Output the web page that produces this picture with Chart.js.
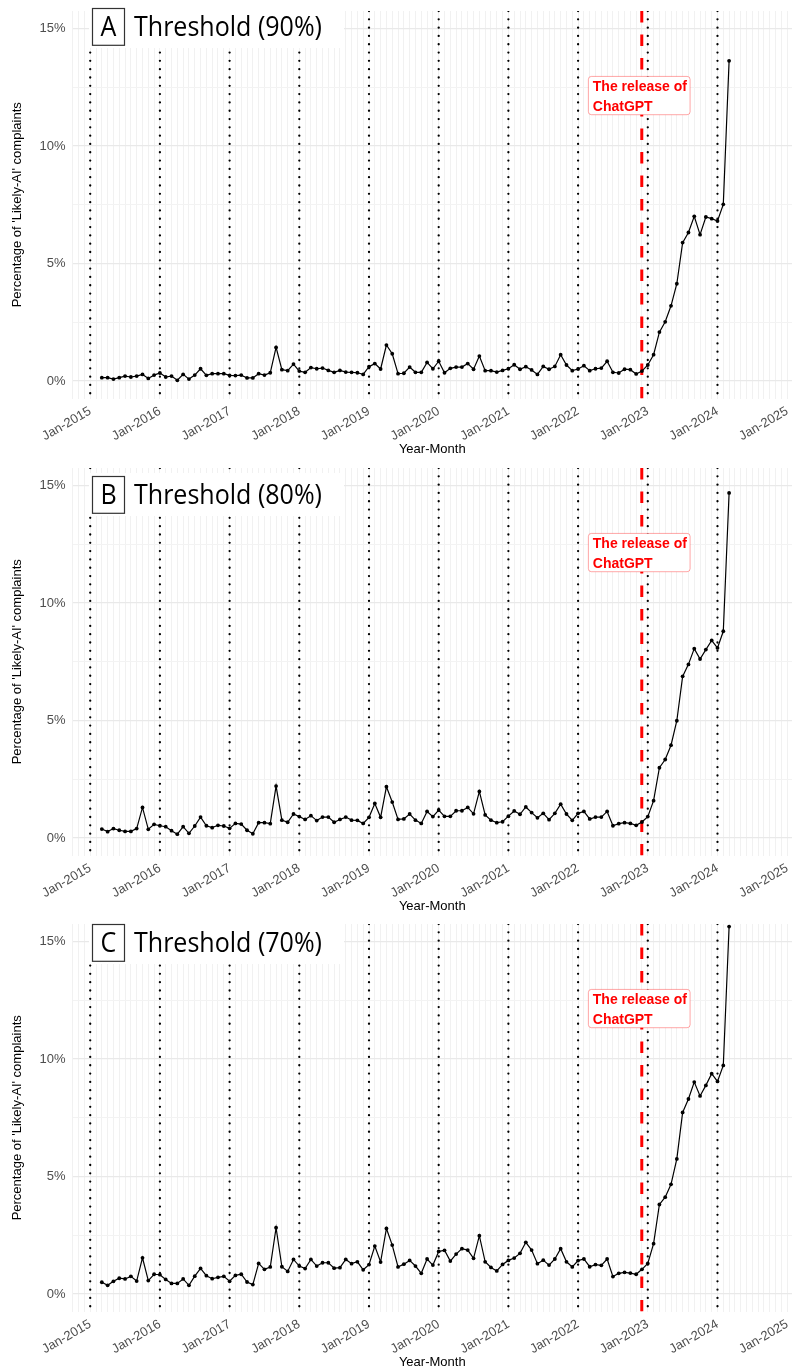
<!DOCTYPE html>
<html>
<head>
<meta charset="utf-8">
<script src="https://cdn.jsdelivr.net/npm/chart.js@4.4.1/dist/chart.umd.min.js"></script>
<style>
  html, body { margin: 0; padding: 0; background: #ffffff; }
  body { width: 792px; height: 1372px; position: relative; overflow: hidden; }
  .panel { position: absolute; left: 0; width: 792px; height: 457px; }
  canvas { display: block; }
</style>
</head>
<body>
<div class="panel" style="top:0px"><canvas id="cA" width="792" height="457"></canvas></div>
<div class="panel" style="top:457px"><canvas id="cB" width="792" height="457"></canvas></div>
<div class="panel" style="top:913px"><canvas id="cC" width="792" height="457"></canvas></div>
<script>
// ---------------- DATA ----------------
const monthLabels = [
  "2015-03","2015-04","2015-05","2015-06","2015-07","2015-08","2015-09","2015-10","2015-11","2015-12",
  "2016-01","2016-02","2016-03","2016-04","2016-05","2016-06","2016-07","2016-08","2016-09","2016-10","2016-11","2016-12",
  "2017-01","2017-02","2017-03","2017-04","2017-05","2017-06","2017-07","2017-08","2017-09","2017-10","2017-11","2017-12",
  "2018-01","2018-02","2018-03","2018-04","2018-05","2018-06","2018-07","2018-08","2018-09","2018-10","2018-11","2018-12",
  "2019-01","2019-02","2019-03","2019-04","2019-05","2019-06","2019-07","2019-08","2019-09","2019-10","2019-11","2019-12",
  "2020-01","2020-02","2020-03","2020-04","2020-05","2020-06","2020-07","2020-08","2020-09","2020-10","2020-11","2020-12",
  "2021-01","2021-02","2021-03","2021-04","2021-05","2021-06","2021-07","2021-08","2021-09","2021-10","2021-11","2021-12",
  "2022-01","2022-02","2022-03","2022-04","2022-05","2022-06","2022-07","2022-08","2022-09","2022-10","2022-11","2022-12",
  "2023-01","2023-02","2023-03","2023-04","2023-05","2023-06","2023-07","2023-08","2023-09","2023-10","2023-11","2023-12",
  "2024-01","2024-02","2024-03"
];

// Percentage of 'Likely-AI' complaints, threshold 90%
const seriesThreshold90 = [
  0.14,0.14,0.08,0.14,0.21,0.17,0.21,0.28,0.11,0.25,
  0.34,0.17,0.21,0.03,0.28,0.08,0.25,0.52,0.24,0.31,0.31,0.31,
  0.24,0.23,0.25,0.13,0.13,0.31,0.25,0.35,1.43,0.48,0.44,0.72,
  0.42,0.37,0.57,0.52,0.55,0.45,0.37,0.45,0.38,0.37,0.35,0.28,
  0.61,0.74,0.51,1.53,1.16,0.31,0.33,0.59,0.37,0.37,0.79,0.52,
  0.84,0.35,0.54,0.59,0.59,0.74,0.50,1.06,0.44,0.44,0.38,0.45,
  0.52,0.69,0.50,0.61,0.47,0.28,0.62,0.50,0.62,1.12,0.68,0.44,
  0.51,0.65,0.44,0.52,0.55,0.84,0.37,0.34,0.50,0.48,0.30,0.42,
  0.68,1.12,2.08,2.52,3.20,4.14,5.89,6.32,7.01,6.23,6.98,6.91,
  6.81,7.52,13.63
];

// threshold 80%
const seriesThreshold80 = [
  0.38,0.27,0.40,0.33,0.28,0.28,0.40,1.30,0.37,0.58,
  0.52,0.48,0.31,0.16,0.48,0.20,0.51,0.89,0.52,0.44,0.54,0.51,
  0.41,0.62,0.59,0.33,0.18,0.65,0.65,0.61,2.21,0.76,0.67,1.02,
  0.91,0.79,0.95,0.74,0.89,0.89,0.67,0.79,0.89,0.76,0.75,0.62,
  0.88,1.47,0.88,2.18,1.53,0.79,0.81,1.02,0.76,0.62,1.13,0.91,
  1.19,0.92,0.92,1.16,1.16,1.30,1.03,1.98,0.98,0.76,0.65,0.69,
  0.93,1.15,1.01,1.32,1.08,0.86,1.05,0.78,1.05,1.44,1.02,0.75,
  1.05,1.13,0.81,0.89,0.89,1.13,0.52,0.61,0.65,0.62,0.54,0.68,
  0.91,1.59,2.99,3.34,3.95,4.99,6.88,7.39,8.06,7.62,8.02,8.41,
  8.09,8.80,14.69
];

// threshold 70%
const seriesThreshold70 = [
  0.50,0.37,0.54,0.67,0.64,0.75,0.55,1.54,0.57,0.84,
  0.82,0.62,0.45,0.45,0.64,0.37,0.76,1.09,0.78,0.65,0.71,0.75,
  0.54,0.79,0.84,0.51,0.40,1.30,1.05,1.15,2.82,1.16,0.96,1.47,
  1.19,1.08,1.47,1.19,1.33,1.33,1.10,1.12,1.47,1.29,1.37,1.03,
  1.25,2.04,1.36,2.79,2.08,1.15,1.27,1.43,1.19,0.88,1.49,1.23,
  1.81,1.86,1.40,1.70,1.93,1.87,1.52,2.48,1.37,1.13,0.98,1.26,
  1.43,1.53,1.73,2.20,1.87,1.29,1.44,1.23,1.49,1.93,1.37,1.15,
  1.42,1.49,1.16,1.25,1.22,1.49,0.74,0.88,0.92,0.89,0.84,1.05,
  1.30,2.14,3.81,4.12,4.67,5.75,7.73,8.30,9.02,8.43,8.88,9.38,
  9.05,9.73,15.64
];

const yearMarkDates = ["2015-01-01","2016-01-01","2017-01-01","2018-01-01","2019-01-01",
                       "2020-01-01","2021-01-01","2022-01-01","2023-01-01","2024-01-01"];
const releaseDate = "2022-11-30";
const releaseLabel = ["The release of", "ChatGPT"];
const releaseLabelY = 12.15;

const xTickLabels = ["Jan-2015","Jan-2016","Jan-2017","Jan-2018","Jan-2019","Jan-2020",
                     "Jan-2021","Jan-2022","Jan-2023","Jan-2024","Jan-2025"];
const yTickValues = [0, 2.5, 5, 7.5, 10, 12.5, 15];
const yTickLabels = ["0%", "", "5%", "", "10%", "", "15%"];

const panelLetters = ["A", "B", "C"];
const panelTitles = ["Threshold (90%)", "Threshold (80%)", "Threshold (70%)"];
const yAxisTitle = "Percentage of 'Likely-AI' complaints";
const xAxisTitle = "Year-Month";

// ---------------- LAYOUT / STYLE ----------------
const X_MIN = -3.05, X_MAX = 120.83;
const Y_MIN = -0.75, Y_MAX = 15.75;
const titleBoxTops = [8, 19, 11];

function toMonthIndex(str) {
  const p = str.split('-').map(Number);
  const d = p.length > 2 ? p[2] : 1;
  return (p[0] - 2015) * 12 + (p[1] - 1) + (d - 1) / 30;
}

const annotPlugin = {
  id: 'annot',
  afterDatasetsDraw(chart, args, opts) {
    const ctx = chart.ctx;
    const xs = chart.scales.x, ys = chart.scales.y;
    ctx.save();
    // ChatGPT release label
    const px = xs.getPixelForValue(toMonthIndex(releaseDate));
    const py = ys.getPixelForValue(releaseLabelY);
    const bw = 101.7, bh = 38.3;
    const bx = px - 53.4, by = py - bh / 2;
    ctx.beginPath();
    if (ctx.roundRect) ctx.roundRect(bx, by, bw, bh, 3); else ctx.rect(bx, by, bw, bh);
    ctx.fillStyle = '#ffffff';
    ctx.fill();
    ctx.lineWidth = 1;
    ctx.strokeStyle = 'rgba(255,0,0,0.35)';
    ctx.stroke();
    ctx.fillStyle = '#ff0000';
    ctx.font = 'bold 14px "Liberation Sans", Arial, sans-serif';
    ctx.textBaseline = 'alphabetic';
    ctx.textAlign = 'left';
    ctx.fillText(releaseLabel[0], bx + 4.4, by + 15);
    ctx.fillText(releaseLabel[1], bx + 4.4, by + 34.3);

    // Panel title
    const top = opts.boxTop;
    ctx.fillStyle = '#ffffff';
    ctx.fillRect(89, top - 3, 255, 43);
    ctx.strokeStyle = '#333333';
    ctx.lineWidth = 1.2;
    ctx.strokeRect(92.5, top + 0.5, 32, 36.8);
    const fs = 27.5;
    ctx.font = fs + 'px "Open Sans", sans-serif';
    const w = ctx.measureText(opts.text).width;
    const sx = 188 / w;
    const lw = ctx.measureText(opts.letter).width * sx;
    ctx.fillStyle = '#000000';
    ctx.textAlign = 'left';
    ctx.save();
    ctx.translate(108.5 - lw / 2, top + 28.3);
    ctx.scale(sx, 1);
    ctx.fillText(opts.letter, 0, 0);
    ctx.restore();
    ctx.save();
    ctx.translate(134, top + 28.3);
    ctx.scale(sx, 1);
    ctx.fillText(opts.text, 0, 0);
    ctx.restore();
    ctx.restore();
  }
};

function makeChart(canvasId, series, idx) {
  const mainData = monthLabels.map((m, i) => ({ x: toMonthIndex(m), y: series[i] }));
  const datasets = [{
    data: mainData,
    borderColor: '#000000',
    backgroundColor: '#000000',
    borderWidth: 1.2,
    pointRadius: 1.9,
    pointBackgroundColor: '#000000',
    pointBorderWidth: 0,
    tension: 0,
    order: 0
  }, {
    data: [{ x: toMonthIndex(releaseDate), y: Y_MIN }, { x: toMonthIndex(releaseDate), y: Y_MAX }],
    borderColor: '#ff0000',
    borderWidth: 3,
    borderDash: [11.5, 12],
    pointRadius: 0,
    order: 1
  }];
  yearMarkDates.forEach(d => {
    datasets.push({
      data: [{ x: toMonthIndex(d), y: Y_MAX }, { x: toMonthIndex(d), y: Y_MIN }],
      borderColor: '#000000',
      borderWidth: 2.3,
      borderDash: [0.01, 8.3],
      borderCapStyle: 'round',
      pointRadius: 0,
      order: 2
    });
  });

  return new Chart(document.getElementById(canvasId), {
    type: 'line',
    data: { datasets },
    plugins: [annotPlugin],
    options: {
      responsive: false,
      animation: false,
      devicePixelRatio: 1,
      events: [],
      layout: { autoPadding: false, padding: { top: 11, right: 0, left: 0, bottom: 0 } },
      plugins: {
        legend: { display: false },
        tooltip: { enabled: false },
        annot: { letter: panelLetters[idx], text: panelTitles[idx], boxTop: titleBoxTops[idx] }
      },
      scales: {
        x: {
          type: 'linear',
          min: X_MIN,
          max: X_MAX,
          afterBuildTicks(scale) {
            const t = [];
            for (let v = Math.ceil(X_MIN); v <= Math.floor(X_MAX); v++) t.push({ value: v });
            scale.ticks = t;
          },
          afterFit(scale) {
            scale.height = 58.4;
            scale.paddingLeft = 0;
            scale.paddingRight = 0;
          },
          ticks: {
            autoSkip: false,
            minRotation: 30,
            maxRotation: 30,
            padding: 5,
            color: '#4d4d4d',
            font: { family: '"Liberation Sans", Arial, sans-serif', size: 13 },
            callback(value) {
              return (value % 12 === 0 && value >= 0) ? xTickLabels[value / 12] : '';
            }
          },
          grid: { color: '#f1f1f1', lineWidth: 1, drawTicks: false },
          border: { display: false },
          title: {
            display: true,
            text: xAxisTitle,
            color: '#000000',
            font: { family: '"Liberation Sans", Arial, sans-serif', size: 13 },
            padding: { top: 0, bottom: 0 }
          }
        },
        y: {
          type: 'linear',
          min: Y_MIN,
          max: Y_MAX,
          afterBuildTicks(scale) { scale.ticks = yTickValues.map(v => ({ value: v })); },
          afterFit(scale) {
            scale.width = 72.5;
            scale.paddingTop = 0;
            scale.paddingBottom = 0;
          },
          ticks: {
            padding: 7,
            color: '#4d4d4d',
            font: { family: '"Liberation Sans", Arial, sans-serif', size: 13 },
            callback(value) {
              const i = yTickValues.indexOf(value);
              return i >= 0 ? yTickLabels[i] : '';
            }
          },
          grid: {
            drawTicks: false,
            color: ctx => (ctx.tick && ctx.tick.value % 5 === 0) ? '#e9e9e9' : '#f3f3f3',
            lineWidth: ctx => (ctx.tick && ctx.tick.value % 5 === 0) ? 1.2 : 1
          },
          border: { display: false },
          title: {
            display: true,
            text: yAxisTitle,
            color: '#000000',
            font: { family: '"Liberation Sans", Arial, sans-serif', size: 13 },
            padding: { top: 9.2, bottom: 0 }
          }
        }
      }
    }
  });
}

makeChart('cA', seriesThreshold90, 0);
makeChart('cB', seriesThreshold80, 1);
makeChart('cC', seriesThreshold70, 2);
</script>
</body>
</html>
